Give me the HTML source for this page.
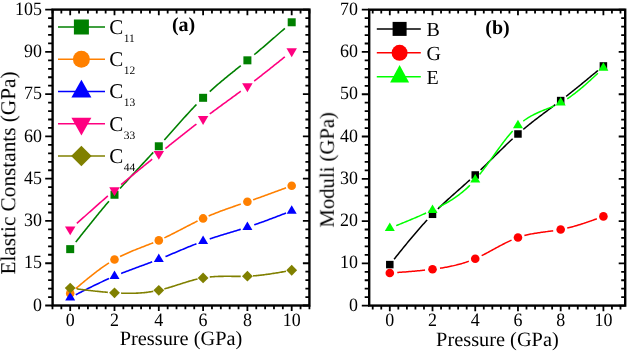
<!DOCTYPE html><html><head><meta charset="utf-8"><style>html,body{margin:0;padding:0;background:#fff;overflow:hidden}svg{display:block}text{will-change:transform}</style></head><body>
<svg width="627" height="354" viewBox="0 0 627 354">
<rect width="627" height="354" fill="#fff"/>
<path d="M70.20,305.50V311.10M70.20,9.60V15.20M114.50,305.50V311.10M114.50,9.60V15.20M158.80,305.50V311.10M158.80,9.60V15.20M203.10,305.50V311.10M203.10,9.60V15.20M247.40,305.50V311.10M247.40,9.60V15.20M291.70,305.50V311.10M291.70,9.60V15.20M52.48,305.50V309.30M52.48,9.60V13.40M61.34,305.50V309.30M61.34,9.60V13.40M79.06,305.50V309.30M79.06,9.60V13.40M87.92,305.50V309.30M87.92,9.60V13.40M96.78,305.50V309.30M96.78,9.60V13.40M105.64,305.50V309.30M105.64,9.60V13.40M123.36,305.50V309.30M123.36,9.60V13.40M132.22,305.50V309.30M132.22,9.60V13.40M141.08,305.50V309.30M141.08,9.60V13.40M149.94,305.50V309.30M149.94,9.60V13.40M167.66,305.50V309.30M167.66,9.60V13.40M176.52,305.50V309.30M176.52,9.60V13.40M185.38,305.50V309.30M185.38,9.60V13.40M194.24,305.50V309.30M194.24,9.60V13.40M211.96,305.50V309.30M211.96,9.60V13.40M220.82,305.50V309.30M220.82,9.60V13.40M229.68,305.50V309.30M229.68,9.60V13.40M238.54,305.50V309.30M238.54,9.60V13.40M256.26,305.50V309.30M256.26,9.60V13.40M265.12,305.50V309.30M265.12,9.60V13.40M273.98,305.50V309.30M273.98,9.60V13.40M282.84,305.50V309.30M282.84,9.60V13.40M300.56,305.50V309.30M300.56,9.60V13.40M309.42,305.50V309.30M309.42,9.60V13.40M52.60,305.50H45.20M309.40,305.50H302.90M52.60,263.23H45.20M309.40,263.23H302.90M52.60,220.96H45.20M309.40,220.96H302.90M52.60,178.69H45.20M309.40,178.69H302.90M52.60,136.41H45.20M309.40,136.41H302.90M52.60,94.14H45.20M309.40,94.14H302.90M52.60,51.87H45.20M309.40,51.87H302.90M52.60,9.60H45.20M309.40,9.60H302.90M52.60,297.05H48.10M309.40,297.05H305.40M52.60,288.59H48.10M309.40,288.59H305.40M52.60,280.14H48.10M309.40,280.14H305.40M52.60,271.68H48.10M309.40,271.68H305.40M52.60,254.77H48.10M309.40,254.77H305.40M52.60,246.32H48.10M309.40,246.32H305.40M52.60,237.87H48.10M309.40,237.87H305.40M52.60,229.41H48.10M309.40,229.41H305.40M52.60,212.50H48.10M309.40,212.50H305.40M52.60,204.05H48.10M309.40,204.05H305.40M52.60,195.59H48.10M309.40,195.59H305.40M52.60,187.14H48.10M309.40,187.14H305.40M52.60,170.23H48.10M309.40,170.23H305.40M52.60,161.78H48.10M309.40,161.78H305.40M52.60,153.32H48.10M309.40,153.32H305.40M52.60,144.87H48.10M309.40,144.87H305.40M52.60,127.96H48.10M309.40,127.96H305.40M52.60,119.51H48.10M309.40,119.51H305.40M52.60,111.05H48.10M309.40,111.05H305.40M52.60,102.60H48.10M309.40,102.60H305.40M52.60,85.69H48.10M309.40,85.69H305.40M52.60,77.23H48.10M309.40,77.23H305.40M52.60,68.78H48.10M309.40,68.78H305.40M52.60,60.33H48.10M309.40,60.33H305.40M52.60,43.42H48.10M309.40,43.42H305.40M52.60,34.96H48.10M309.40,34.96H305.40M52.60,26.51H48.10M309.40,26.51H305.40M52.60,18.05H48.10M309.40,18.05H305.40" stroke="#000" stroke-width="1.8" fill="none"/><rect x="52.60" y="9.60" width="256.80" height="295.90" fill="none" stroke="#000" stroke-width="2.4"/>
<path d="M75.74,242.12 L76.84,240.72 L77.95,239.31 L79.06,237.91 L80.17,236.52 L81.28,235.12 L82.38,233.72 L83.49,232.33 L84.60,230.94 L85.70,229.55 L86.81,228.16 L87.92,226.78 L89.03,225.40 L90.14,224.02 L91.24,222.64 L92.35,221.27 L93.46,219.90 L94.56,218.53 L95.67,217.17 L96.78,215.81 L97.89,214.46 L99.00,213.11 L100.10,211.76 L101.21,210.42 L102.32,209.09 L103.42,207.76 L104.53,206.43 L105.64,205.11 L106.75,203.79 L107.86,202.48 L108.96,201.18M120.04,188.48 L121.14,187.24 L122.25,186.01 L123.36,184.78 L124.47,183.56 L125.58,182.34 L126.68,181.13 L127.79,179.91 L128.90,178.71 L130.00,177.50 L131.11,176.30 L132.22,175.10 L133.33,173.90 L134.44,172.71 L135.54,171.51 L136.65,170.32 L137.76,169.13 L138.87,167.93 L139.97,166.74 L141.08,165.55 L142.19,164.36 L143.30,163.17 L144.40,161.98 L145.51,160.78 L146.62,159.59 L147.73,158.39 L148.83,157.19 L149.94,155.99 L151.05,154.79 L152.16,153.59 L153.26,152.38M164.34,140.07 L165.44,138.82 L166.55,137.57 L167.66,136.32 L168.77,135.06 L169.88,133.80 L170.98,132.55 L172.09,131.29 L173.20,130.03 L174.31,128.78 L175.41,127.52 L176.52,126.27 L177.63,125.02 L178.73,123.77 L179.84,122.52 L180.95,121.28 L182.06,120.04 L183.16,118.81 L184.27,117.58 L185.38,116.35 L186.49,115.13 L187.59,113.92 L188.70,112.71 L189.81,111.52 L190.92,110.32 L192.02,109.14 L193.13,107.96 L194.24,106.79 L195.35,105.63 L196.45,104.48M209.74,91.55 L210.85,90.54 L211.96,89.54 L213.07,88.56 L214.17,87.58 L215.28,86.61 L216.39,85.65 L217.50,84.69 L218.60,83.74 L219.71,82.80 L220.82,81.87 L221.93,80.94 L223.03,80.02 L224.14,79.10 L225.25,78.19 L226.36,77.28 L227.46,76.38 L228.57,75.48 L229.68,74.58 L230.79,73.68 L231.89,72.79 L233.00,71.90 L234.11,71.01 L235.22,70.12 L236.32,69.24 L237.43,68.35 L238.54,67.47 L239.65,66.58 L240.75,65.69M254.22,54.71 L255.35,53.76 L256.49,52.81 L257.62,51.85 L258.76,50.89 L259.89,49.93 L261.03,48.97 L262.17,48.00 L263.30,47.03 L264.44,46.06 L265.57,45.09 L266.71,44.11 L267.85,43.14 L268.98,42.16 L270.12,41.18 L271.25,40.19 L272.39,39.21 L273.53,38.22 L274.66,37.23 L275.80,36.24 L276.93,35.25 L278.07,34.26 L279.21,33.26 L280.34,32.27 L281.48,31.27 L282.61,30.28 L283.75,29.28 L284.88,28.28" stroke="#008000" stroke-width="1.6" fill="none"/>
<rect x="66.20" y="245.14" width="8.00" height="8.00" fill="#008000"/>
<rect x="110.50" y="190.75" width="8.00" height="8.00" fill="#008000"/>
<rect x="154.80" y="142.28" width="8.00" height="8.00" fill="#008000"/>
<rect x="199.10" y="93.81" width="8.00" height="8.00" fill="#008000"/>
<rect x="243.40" y="56.33" width="8.00" height="8.00" fill="#008000"/>
<rect x="287.70" y="18.28" width="8.00" height="8.00" fill="#008000"/>
<path d="M75.74,288.63 L76.84,287.69 L77.95,286.75 L79.06,285.81 L80.17,284.87 L81.28,283.94 L82.38,283.01 L83.49,282.08 L84.60,281.16 L85.70,280.25 L86.81,279.34 L87.92,278.43 L89.03,277.54 L90.14,276.65 L91.24,275.76 L92.35,274.89 L93.46,274.02 L94.56,273.16 L95.67,272.31 L96.78,271.47 L97.89,270.64 L99.00,269.81 L100.10,269.00 L101.21,268.20 L102.32,267.41 L103.42,266.63 L104.53,265.87 L105.64,265.11 L106.75,264.37 L107.86,263.64 L108.96,262.93M120.04,256.58 L121.14,256.02 L122.25,255.48 L123.36,254.95 L124.47,254.43 L125.58,253.92 L126.68,253.42 L127.79,252.92 L128.90,252.44 L130.00,251.96 L131.11,251.50 L132.22,251.04 L133.33,250.58 L134.44,250.13 L135.54,249.69 L136.65,249.25 L137.76,248.81 L138.87,248.37 L139.97,247.94 L141.08,247.51 L142.19,247.09 L143.30,246.66 L144.40,246.23 L145.51,245.80 L146.62,245.37 L147.73,244.94 L148.83,244.51 L149.94,244.07 L151.05,243.63 L152.16,243.19 L153.26,242.74M164.34,237.87 L165.44,237.35 L166.55,236.81 L167.66,236.27 L168.77,235.73 L169.88,235.18 L170.98,234.63 L172.09,234.07 L173.20,233.51 L174.31,232.94 L175.41,232.38 L176.52,231.81 L177.63,231.24 L178.73,230.66 L179.84,230.09 L180.95,229.51 L182.06,228.94 L183.16,228.36 L184.27,227.78 L185.38,227.21 L186.49,226.63 L187.59,226.06 L188.70,225.49 L189.81,224.92 L190.92,224.35 L192.02,223.79 L193.13,223.23 L194.24,222.68 L195.35,222.13 L196.45,221.58 L197.56,221.04M208.64,215.98 L209.74,215.51 L210.85,215.05 L211.96,214.59 L213.07,214.14 L214.17,213.69 L215.28,213.25 L216.39,212.82 L217.50,212.39 L218.60,211.96 L219.71,211.54 L220.82,211.12 L221.93,210.71 L223.03,210.30 L224.14,209.90 L225.25,209.49 L226.36,209.09 L227.46,208.70 L228.57,208.30 L229.68,207.91 L230.79,207.52 L231.89,207.14 L233.00,206.75 L234.11,206.37 L235.22,205.98 L236.32,205.60 L237.43,205.22 L238.54,204.84 L239.65,204.46 L240.75,204.08M253.08,199.81 L254.22,199.41 L255.35,199.01 L256.49,198.60 L257.62,198.20 L258.76,197.79 L259.89,197.39 L261.03,196.98 L262.17,196.57 L263.30,196.16 L264.44,195.75 L265.57,195.34 L266.71,194.93 L267.85,194.52 L268.98,194.10 L270.12,193.69 L271.25,193.27 L272.39,192.86 L273.53,192.44 L274.66,192.03 L275.80,191.61 L276.93,191.19 L278.07,190.77 L279.21,190.35 L280.34,189.94 L281.48,189.52 L282.61,189.10 L283.75,188.68 L284.88,188.26 L286.02,187.84" stroke="#ff8000" stroke-width="1.6" fill="none"/>
<circle cx="70.20" cy="293.38" r="4.30" fill="#ff8000"/>
<circle cx="114.50" cy="259.57" r="4.30" fill="#ff8000"/>
<circle cx="158.80" cy="240.40" r="4.30" fill="#ff8000"/>
<circle cx="203.10" cy="218.42" r="4.30" fill="#ff8000"/>
<circle cx="247.40" cy="201.79" r="4.30" fill="#ff8000"/>
<circle cx="291.70" cy="185.73" r="4.30" fill="#ff8000"/>
<path d="M75.74,294.76 L76.84,294.20 L77.95,293.63 L79.06,293.06 L80.17,292.50 L81.28,291.93 L82.38,291.37 L83.49,290.81 L84.60,290.25 L85.70,289.69 L86.81,289.13 L87.92,288.58 L89.03,288.03 L90.14,287.48 L91.24,286.93 L92.35,286.38 L93.46,285.84 L94.56,285.30 L95.67,284.76 L96.78,284.23 L97.89,283.70 L99.00,283.17 L100.10,282.65 L101.21,282.13 L102.32,281.61 L103.42,281.09 L104.53,280.59 L105.64,280.08 L106.75,279.58 L107.86,279.08 L108.96,278.59M121.14,273.48 L122.25,273.04 L123.36,272.60 L124.47,272.17 L125.58,271.75 L126.68,271.32 L127.79,270.90 L128.90,270.48 L130.00,270.06 L131.11,269.65 L132.22,269.23 L133.33,268.82 L134.44,268.41 L135.54,268.00 L136.65,267.59 L137.76,267.19 L138.87,266.78 L139.97,266.37 L141.08,265.97 L142.19,265.56 L143.30,265.15 L144.40,264.74 L145.51,264.33 L146.62,263.92 L147.73,263.51 L148.83,263.10 L149.94,262.69 L151.05,262.27 L152.16,261.85M165.44,256.60 L166.55,256.14 L167.66,255.68 L168.77,255.22 L169.88,254.76 L170.98,254.29 L172.09,253.83 L173.20,253.36 L174.31,252.89 L175.41,252.43 L176.52,251.96 L177.63,251.49 L178.73,251.02 L179.84,250.55 L180.95,250.09 L182.06,249.62 L183.16,249.16 L184.27,248.69 L185.38,248.23 L186.49,247.77 L187.59,247.31 L188.70,246.86 L189.81,246.41 L190.92,245.96 L192.02,245.51 L193.13,245.06 L194.24,244.62 L195.35,244.19 L196.45,243.75M209.74,238.92 L210.85,238.55 L211.96,238.19 L213.07,237.82 L214.17,237.46 L215.28,237.10 L216.39,236.75 L217.50,236.40 L218.60,236.05 L219.71,235.70 L220.82,235.36 L221.93,235.02 L223.03,234.68 L224.14,234.34 L225.25,234.00 L226.36,233.66 L227.46,233.33 L228.57,232.99 L229.68,232.66 L230.79,232.32 L231.89,231.99 L233.00,231.65 L234.11,231.32 L235.22,230.98 L236.32,230.64 L237.43,230.30 L238.54,229.96 L239.65,229.62 L240.75,229.27M254.22,224.87 L255.35,224.47 L256.49,224.08 L257.62,223.68 L258.76,223.28 L259.89,222.87 L261.03,222.46 L262.17,222.05 L263.30,221.64 L264.44,221.23 L265.57,220.81 L266.71,220.39 L267.85,219.97 L268.98,219.55 L270.12,219.12 L271.25,218.69 L272.39,218.27 L273.53,217.84 L274.66,217.40 L275.80,216.97 L276.93,216.54 L278.07,216.10 L279.21,215.66 L280.34,215.23 L281.48,214.79 L282.61,214.35 L283.75,213.91 L284.88,213.47 L286.02,213.02" stroke="#0000ff" stroke-width="1.6" fill="none"/>
<polygon points="70.20,291.94 75.20,300.44 65.20,300.44" fill="#0000ff"/>
<polygon points="114.50,270.53 119.50,279.03 109.50,279.03" fill="#0000ff"/>
<polygon points="158.80,253.62 163.80,262.12 153.80,262.12" fill="#0000ff"/>
<polygon points="203.10,235.58 208.10,244.08 198.10,244.08" fill="#0000ff"/>
<polygon points="247.40,221.49 252.40,229.99 242.40,229.99" fill="#0000ff"/>
<polygon points="291.70,205.15 296.70,213.65 286.70,213.65" fill="#0000ff"/>
<path d="M76.84,223.43 L77.95,222.44 L79.06,221.44 L80.17,220.45 L81.28,219.45 L82.38,218.46 L83.49,217.47 L84.60,216.47 L85.70,215.48 L86.81,214.49 L87.92,213.50 L89.03,212.52 L90.14,211.53 L91.24,210.54 L92.35,209.56 L93.46,208.58 L94.56,207.60 L95.67,206.62 L96.78,205.64 L97.89,204.66 L99.00,203.68 L100.10,202.71 L101.21,201.74 L102.32,200.77 L103.42,199.80 L104.53,198.83 L105.64,197.87 L106.75,196.91 L107.86,195.95M121.14,184.62 L122.25,183.69 L123.36,182.77 L124.47,181.84 L125.58,180.92 L126.68,180.00 L127.79,179.08 L128.90,178.17 L130.00,177.25 L131.11,176.34 L132.22,175.43 L133.33,174.52 L134.44,173.61 L135.54,172.71 L136.65,171.80 L137.76,170.90 L138.87,170.00 L139.97,169.10 L141.08,168.20 L142.19,167.30 L143.30,166.40 L144.40,165.50 L145.51,164.60 L146.62,163.71 L147.73,162.81 L148.83,161.92 L149.94,161.03 L151.05,160.13 L152.16,159.24M165.44,148.54 L166.55,147.65 L167.66,146.76 L168.77,145.87 L169.88,144.98 L170.98,144.09 L172.09,143.20 L173.20,142.32 L174.31,141.43 L175.41,140.54 L176.52,139.66 L177.63,138.78 L178.73,137.90 L179.84,137.02 L180.95,136.14 L182.06,135.26 L183.16,134.38 L184.27,133.51 L185.38,132.63 L186.49,131.76 L187.59,130.89 L188.70,130.03 L189.81,129.16 L190.92,128.30 L192.02,127.43 L193.13,126.57 L194.24,125.72 L195.35,124.86 L196.45,124.01M209.74,113.97 L210.85,113.15 L211.96,112.33 L213.07,111.51 L214.17,110.70 L215.28,109.88 L216.39,109.07 L217.50,108.26 L218.60,107.45 L219.71,106.64 L220.82,105.83 L221.93,105.02 L223.03,104.21 L224.14,103.40 L225.25,102.60 L226.36,101.79 L227.46,100.98 L228.57,100.17 L229.68,99.36 L230.79,98.55 L231.89,97.74 L233.00,96.93 L234.11,96.12 L235.22,95.31 L236.32,94.49 L237.43,93.68 L238.54,92.86 L239.65,92.04 L240.75,91.22M254.22,81.06 L255.35,80.18 L256.49,79.30 L257.62,78.42 L258.76,77.54 L259.89,76.66 L261.03,75.77 L262.17,74.88 L263.30,73.99 L264.44,73.10 L265.57,72.21 L266.71,71.31 L267.85,70.41 L268.98,69.51 L270.12,68.61 L271.25,67.71 L272.39,66.81 L273.53,65.90 L274.66,64.99 L275.80,64.09 L276.93,63.18 L278.07,62.27 L279.21,61.36 L280.34,60.45 L281.48,59.54 L282.61,58.62 L283.75,57.71 L284.88,56.80" stroke="#ff0080" stroke-width="1.6" fill="none"/>
<polygon points="70.20,235.36 75.45,226.44 64.95,226.44" fill="#ff0080"/>
<polygon points="114.50,196.19 119.75,187.26 109.25,187.26" fill="#ff0080"/>
<polygon points="158.80,159.84 164.05,150.91 153.55,150.91" fill="#ff0080"/>
<polygon points="203.10,124.89 208.35,115.97 197.85,115.97" fill="#ff0080"/>
<polygon points="247.40,92.20 252.65,83.28 242.15,83.28" fill="#ff0080"/>
<polygon points="291.70,57.26 296.95,48.33 286.45,48.33" fill="#ff0080"/>
<path d="M76.84,288.90 L77.95,289.04 L79.06,289.18 L80.17,289.33 L81.28,289.47 L82.38,289.61 L83.49,289.75 L84.60,289.88 L85.70,290.02 L86.81,290.16 L87.92,290.29 L89.03,290.42 L90.14,290.55 L91.24,290.68 L92.35,290.81 L93.46,290.93 L94.56,291.06 L95.67,291.18 L96.78,291.30 L97.89,291.41 L99.00,291.53 L100.10,291.64 L101.21,291.75 L102.32,291.86 L103.42,291.96 L104.53,292.06 L105.64,292.16 L106.75,292.25 L107.86,292.34M121.14,293.15 L122.25,293.19 L123.36,293.22 L124.47,293.25 L125.58,293.27 L126.68,293.29 L127.79,293.30 L128.90,293.30 L130.00,293.30 L131.11,293.29 L132.22,293.28 L133.33,293.25 L134.44,293.22 L135.54,293.19 L136.65,293.14 L137.76,293.09 L138.87,293.02 L139.97,292.95 L141.08,292.87 L142.19,292.79 L143.30,292.69 L144.40,292.58 L145.51,292.47 L146.62,292.34 L147.73,292.21 L148.83,292.07 L149.94,291.91 L151.05,291.75 L152.16,291.57 L153.26,291.38M164.34,288.90 L165.44,288.59 L166.55,288.28 L167.66,287.96 L168.77,287.63 L169.88,287.30 L170.98,286.96 L172.09,286.62 L173.20,286.27 L174.31,285.92 L175.41,285.57 L176.52,285.21 L177.63,284.86 L178.73,284.50 L179.84,284.14 L180.95,283.79 L182.06,283.43 L183.16,283.08 L184.27,282.73 L185.38,282.39 L186.49,282.05 L187.59,281.71 L188.70,281.38 L189.81,281.05 L190.92,280.73 L192.02,280.42 L193.13,280.12 L194.24,279.83 L195.35,279.54 L196.45,279.27 L197.56,279.01M209.74,276.99 L210.85,276.88 L211.96,276.79 L213.07,276.71 L214.17,276.63 L215.28,276.57 L216.39,276.51 L217.50,276.46 L218.60,276.42 L219.71,276.39 L220.82,276.36 L221.93,276.34 L223.03,276.33 L224.14,276.32 L225.25,276.31 L226.36,276.31 L227.46,276.31 L228.57,276.31 L229.68,276.32 L230.79,276.32 L231.89,276.33 L233.00,276.34 L234.11,276.34 L235.22,276.35 L236.32,276.35 L237.43,276.36 L238.54,276.36 L239.65,276.35 L240.75,276.34M253.08,275.86 L254.22,275.78 L255.35,275.68 L256.49,275.58 L257.62,275.47 L258.76,275.36 L259.89,275.24 L261.03,275.11 L262.17,274.98 L263.30,274.84 L264.44,274.70 L265.57,274.55 L266.71,274.40 L267.85,274.25 L268.98,274.09 L270.12,273.92 L271.25,273.75 L272.39,273.58 L273.53,273.40 L274.66,273.22 L275.80,273.04 L276.93,272.86 L278.07,272.67 L279.21,272.48 L280.34,272.28 L281.48,272.09 L282.61,271.89 L283.75,271.69 L284.88,271.49 L286.02,271.29" stroke="#808000" stroke-width="1.6" fill="none"/>
<polygon points="70.20,282.63 75.60,288.03 70.20,293.43 64.80,288.03" fill="#808000"/>
<polygon points="114.50,287.42 119.90,292.82 114.50,298.22 109.10,292.82" fill="#808000"/>
<polygon points="158.80,284.88 164.20,290.28 158.80,295.68 153.40,290.28" fill="#808000"/>
<polygon points="203.10,272.48 208.50,277.88 203.10,283.28 197.70,277.88" fill="#808000"/>
<polygon points="247.40,270.79 252.80,276.19 247.40,281.59 242.00,276.19" fill="#808000"/>
<polygon points="291.70,264.87 297.10,270.27 291.70,275.67 286.30,270.27" fill="#808000"/>
<text transform="translate(42.00,310.60) scale(0.95,1)" text-anchor="end" font-size="18.9" font-family="'Liberation Serif', serif" text-rendering="geometricPrecision">0</text>
<text transform="translate(42.00,268.33) scale(0.95,1)" text-anchor="end" font-size="18.9" font-family="'Liberation Serif', serif" text-rendering="geometricPrecision">15</text>
<text transform="translate(42.00,226.06) scale(0.95,1)" text-anchor="end" font-size="18.9" font-family="'Liberation Serif', serif" text-rendering="geometricPrecision">30</text>
<text transform="translate(42.00,183.79) scale(0.95,1)" text-anchor="end" font-size="18.9" font-family="'Liberation Serif', serif" text-rendering="geometricPrecision">45</text>
<text transform="translate(42.00,141.51) scale(0.95,1)" text-anchor="end" font-size="18.9" font-family="'Liberation Serif', serif" text-rendering="geometricPrecision">60</text>
<text transform="translate(42.00,99.24) scale(0.95,1)" text-anchor="end" font-size="18.9" font-family="'Liberation Serif', serif" text-rendering="geometricPrecision">75</text>
<text transform="translate(42.00,56.97) scale(0.95,1)" text-anchor="end" font-size="18.9" font-family="'Liberation Serif', serif" text-rendering="geometricPrecision">90</text>
<text transform="translate(42.00,14.70) scale(0.95,1)" text-anchor="end" font-size="18.9" font-family="'Liberation Serif', serif" text-rendering="geometricPrecision">105</text>
<text transform="translate(70.20,326.4) scale(0.95,1)" text-anchor="middle" font-size="18.9" font-family="'Liberation Serif', serif" text-rendering="geometricPrecision">0</text>
<text transform="translate(114.50,326.4) scale(0.95,1)" text-anchor="middle" font-size="18.9" font-family="'Liberation Serif', serif" text-rendering="geometricPrecision">2</text>
<text transform="translate(158.80,326.4) scale(0.95,1)" text-anchor="middle" font-size="18.9" font-family="'Liberation Serif', serif" text-rendering="geometricPrecision">4</text>
<text transform="translate(203.10,326.4) scale(0.95,1)" text-anchor="middle" font-size="18.9" font-family="'Liberation Serif', serif" text-rendering="geometricPrecision">6</text>
<text transform="translate(247.40,326.4) scale(0.95,1)" text-anchor="middle" font-size="18.9" font-family="'Liberation Serif', serif" text-rendering="geometricPrecision">8</text>
<text transform="translate(291.70,326.4) scale(0.95,1)" text-anchor="middle" font-size="18.9" font-family="'Liberation Serif', serif" text-rendering="geometricPrecision">10</text>
<text x="181" y="344.9" text-anchor="middle" font-size="20.35" font-family="'Liberation Serif', serif" text-rendering="geometricPrecision">Pressure (GPa)</text>
<text transform="translate(15.2,173) rotate(-90)" text-anchor="middle" font-size="21.25" font-family="'Liberation Serif', serif" text-rendering="geometricPrecision">Elastic Constants (GPa)</text>
<text x="171.9" y="31.4" font-size="20" font-weight="bold" font-family="'Liberation Serif', serif" text-rendering="geometricPrecision">(a)</text>
<path d="M58,27.00H105" stroke="#008000" stroke-width="1.5"/>
<rect x="73.90" y="19.50" width="15.00" height="15.00" fill="#008000"/>
<text x="109.2" y="33.90" font-size="21" font-family="'Liberation Serif', serif" text-rendering="geometricPrecision">C</text>
<text x="123.8" y="41.90" font-size="11.5" font-family="'Liberation Serif', serif" text-rendering="geometricPrecision">11</text>
<path d="M58,59.25H105" stroke="#ff8000" stroke-width="1.5"/>
<circle cx="81.40" cy="59.25" r="8.50" fill="#ff8000"/>
<text x="109.2" y="66.15" font-size="21" font-family="'Liberation Serif', serif" text-rendering="geometricPrecision">C</text>
<text x="123.8" y="74.15" font-size="11.5" font-family="'Liberation Serif', serif" text-rendering="geometricPrecision">12</text>
<path d="M58,91.50H105" stroke="#0000ff" stroke-width="1.5"/>
<polygon points="81.40,79.63 91.40,97.43 71.40,97.43" fill="#0000ff"/>
<text x="109.2" y="98.40" font-size="21" font-family="'Liberation Serif', serif" text-rendering="geometricPrecision">C</text>
<text x="123.8" y="106.40" font-size="11.5" font-family="'Liberation Serif', serif" text-rendering="geometricPrecision">13</text>
<path d="M58,123.75H105" stroke="#ff0080" stroke-width="1.5"/>
<polygon points="81.40,135.62 91.40,117.82 71.40,117.82" fill="#ff0080"/>
<text x="109.2" y="130.65" font-size="21" font-family="'Liberation Serif', serif" text-rendering="geometricPrecision">C</text>
<text x="123.8" y="138.65" font-size="11.5" font-family="'Liberation Serif', serif" text-rendering="geometricPrecision">33</text>
<path d="M58,156.00H105" stroke="#808000" stroke-width="1.5"/>
<polygon points="81.40,145.75 91.65,156.00 81.40,166.25 71.15,156.00" fill="#808000"/>
<text x="109.2" y="162.90" font-size="21" font-family="'Liberation Serif', serif" text-rendering="geometricPrecision">C</text>
<text x="123.8" y="170.90" font-size="11.5" font-family="'Liberation Serif', serif" text-rendering="geometricPrecision">44</text>
<path d="M389.80,305.60V311.20M389.80,9.70V15.30M432.52,305.60V311.20M432.52,9.70V15.30M475.24,305.60V311.20M475.24,9.70V15.30M517.96,305.60V311.20M517.96,9.70V15.30M560.68,305.60V311.20M560.68,9.70V15.30M603.40,305.60V311.20M603.40,9.70V15.30M372.71,305.60V309.40M372.71,9.70V13.50M381.26,305.60V309.40M381.26,9.70V13.50M398.34,305.60V309.40M398.34,9.70V13.50M406.89,305.60V309.40M406.89,9.70V13.50M415.43,305.60V309.40M415.43,9.70V13.50M423.98,305.60V309.40M423.98,9.70V13.50M441.06,305.60V309.40M441.06,9.70V13.50M449.61,305.60V309.40M449.61,9.70V13.50M458.15,305.60V309.40M458.15,9.70V13.50M466.70,305.60V309.40M466.70,9.70V13.50M483.78,305.60V309.40M483.78,9.70V13.50M492.33,305.60V309.40M492.33,9.70V13.50M500.87,305.60V309.40M500.87,9.70V13.50M509.42,305.60V309.40M509.42,9.70V13.50M526.50,305.60V309.40M526.50,9.70V13.50M535.05,305.60V309.40M535.05,9.70V13.50M543.59,305.60V309.40M543.59,9.70V13.50M552.14,305.60V309.40M552.14,9.70V13.50M569.22,305.60V309.40M569.22,9.70V13.50M577.77,305.60V309.40M577.77,9.70V13.50M586.31,305.60V309.40M586.31,9.70V13.50M594.86,305.60V309.40M594.86,9.70V13.50M611.94,305.60V309.40M611.94,9.70V13.50M620.49,305.60V309.40M620.49,9.70V13.50M369.20,305.60H361.80M625.20,305.60H618.70M369.20,263.33H361.80M625.20,263.33H618.70M369.20,221.06H361.80M625.20,221.06H618.70M369.20,178.79H361.80M625.20,178.79H618.70M369.20,136.51H361.80M625.20,136.51H618.70M369.20,94.24H361.80M625.20,94.24H618.70M369.20,51.97H361.80M625.20,51.97H618.70M369.20,9.70H361.80M625.20,9.70H618.70M369.20,297.15H364.70M625.20,297.15H621.20M369.20,288.69H364.70M625.20,288.69H621.20M369.20,280.24H364.70M625.20,280.24H621.20M369.20,271.78H364.70M625.20,271.78H621.20M369.20,254.87H364.70M625.20,254.87H621.20M369.20,246.42H364.70M625.20,246.42H621.20M369.20,237.97H364.70M625.20,237.97H621.20M369.20,229.51H364.70M625.20,229.51H621.20M369.20,212.60H364.70M625.20,212.60H621.20M369.20,204.15H364.70M625.20,204.15H621.20M369.20,195.69H364.70M625.20,195.69H621.20M369.20,187.24H364.70M625.20,187.24H621.20M369.20,170.33H364.70M625.20,170.33H621.20M369.20,161.88H364.70M625.20,161.88H621.20M369.20,153.42H364.70M625.20,153.42H621.20M369.20,144.97H364.70M625.20,144.97H621.20M369.20,128.06H364.70M625.20,128.06H621.20M369.20,119.61H364.70M625.20,119.61H621.20M369.20,111.15H364.70M625.20,111.15H621.20M369.20,102.70H364.70M625.20,102.70H621.20M369.20,85.79H364.70M625.20,85.79H621.20M369.20,77.33H364.70M625.20,77.33H621.20M369.20,68.88H364.70M625.20,68.88H621.20M369.20,60.43H364.70M625.20,60.43H621.20M369.20,43.52H364.70M625.20,43.52H621.20M369.20,35.06H364.70M625.20,35.06H621.20M369.20,26.61H364.70M625.20,26.61H621.20M369.20,18.15H364.70M625.20,18.15H621.20" stroke="#000" stroke-width="1.8" fill="none"/><rect x="369.20" y="9.70" width="256.00" height="295.90" fill="none" stroke="#000" stroke-width="2.4"/>
<path d="M394.07,259.25 L395.14,257.91 L396.21,256.58 L397.28,255.25 L398.34,253.92 L399.41,252.59 L400.48,251.27 L401.55,249.95 L402.62,248.63 L403.68,247.31 L404.75,246.00 L405.82,244.70 L406.89,243.39 L407.96,242.10 L409.02,240.81 L410.09,239.52 L411.16,238.24 L412.23,236.96 L413.30,235.70 L414.36,234.43 L415.43,233.18 L416.50,231.93 L417.57,230.69 L418.64,229.46 L419.70,228.24 L420.77,227.02 L421.84,225.81 L422.91,224.62 L423.98,223.43 L425.04,222.25 L426.11,221.08 L427.18,219.92M437.86,208.95 L438.93,207.91 L440.00,206.89 L441.06,205.87 L442.13,204.85 L443.20,203.85 L444.27,202.85 L445.34,201.86 L446.40,200.88 L447.47,199.90 L448.54,198.93 L449.61,197.97 L450.68,197.00 L451.74,196.04 L452.81,195.09 L453.88,194.14 L454.95,193.19 L456.02,192.24 L457.08,191.29 L458.15,190.35 L459.22,189.40 L460.29,188.46 L461.36,187.51 L462.42,186.57 L463.49,185.62 L464.56,184.67 L465.63,183.72 L466.70,182.77 L467.76,181.81 L468.83,180.85 L469.90,179.89M480.58,169.92 L481.65,168.89 L482.72,167.86 L483.78,166.82 L484.85,165.78 L485.92,164.73 L486.99,163.69 L488.06,162.64 L489.12,161.59 L490.19,160.53 L491.26,159.48 L492.33,158.42 L493.40,157.37 L494.46,156.31 L495.53,155.26 L496.60,154.20 L497.67,153.15 L498.74,152.10 L499.80,151.05 L500.87,150.01 L501.94,148.96 L503.01,147.93 L504.08,146.89 L505.14,145.86 L506.21,144.83 L507.28,143.81 L508.35,142.80 L509.42,141.79 L510.48,140.78 L511.55,139.79 L512.62,138.80M523.30,129.39 L524.37,128.49 L525.44,127.61 L526.50,126.73 L527.57,125.86 L528.64,125.00 L529.71,124.14 L530.78,123.29 L531.84,122.45 L532.91,121.61 L533.98,120.77 L535.05,119.94 L536.12,119.12 L537.18,118.30 L538.25,117.48 L539.32,116.66 L540.39,115.85 L541.46,115.04 L542.52,114.24 L543.59,113.44 L544.66,112.63 L545.73,111.83 L546.80,111.03 L547.86,110.23 L548.93,109.44 L550.00,108.64 L551.07,107.84 L552.14,107.04 L553.20,106.24 L554.27,105.44 L555.34,104.64M566.16,96.34 L567.25,95.48 L568.35,94.62 L569.44,93.76 L570.54,92.89 L571.63,92.02 L572.73,91.14 L573.82,90.27 L574.92,89.39 L576.02,88.51 L577.11,87.62 L578.21,86.74 L579.30,85.85 L580.40,84.96 L581.49,84.06 L582.59,83.17 L583.68,82.27 L584.78,81.37 L585.87,80.47 L586.97,79.57 L588.06,78.67 L589.16,77.76 L590.26,76.86 L591.35,75.95 L592.45,75.04 L593.54,74.13 L594.64,73.22 L595.73,72.31 L596.83,71.40 L597.92,70.49" stroke="#000000" stroke-width="1.5" fill="none"/>
<rect x="386.05" y="260.85" width="7.50" height="7.50" fill="#000000"/>
<rect x="428.77" y="210.54" width="7.50" height="7.50" fill="#000000"/>
<rect x="471.49" y="171.23" width="7.50" height="7.50" fill="#000000"/>
<rect x="514.21" y="130.23" width="7.50" height="7.50" fill="#000000"/>
<rect x="556.93" y="96.83" width="7.50" height="7.50" fill="#000000"/>
<rect x="599.65" y="62.17" width="7.50" height="7.50" fill="#000000"/>
<path d="M397.28,272.52 L398.34,272.44 L399.41,272.36 L400.48,272.28 L401.55,272.20 L402.62,272.12 L403.68,272.04 L404.75,271.96 L405.82,271.88 L406.89,271.79 L407.96,271.71 L409.02,271.62 L410.09,271.53 L411.16,271.44 L412.23,271.35 L413.30,271.26 L414.36,271.16 L415.43,271.07 L416.50,270.97 L417.57,270.87 L418.64,270.77 L419.70,270.67 L420.77,270.56 L421.84,270.45 L422.91,270.34 L423.98,270.23 L425.04,270.12M440.00,268.22 L441.06,268.06 L442.13,267.89 L443.20,267.72 L444.27,267.54 L445.34,267.35 L446.40,267.16 L447.47,266.96 L448.54,266.76 L449.61,266.54 L450.68,266.33 L451.74,266.10 L452.81,265.87 L453.88,265.62 L454.95,265.37 L456.02,265.11 L457.08,264.85 L458.15,264.57 L459.22,264.28 L460.29,263.99 L461.36,263.68 L462.42,263.36 L463.49,263.04 L464.56,262.70 L465.63,262.35 L466.70,261.99 L467.76,261.62 L468.83,261.24M481.65,255.66 L482.72,255.13 L483.78,254.58 L484.85,254.03 L485.92,253.47 L486.99,252.90 L488.06,252.33 L489.12,251.75 L490.19,251.17 L491.26,250.59 L492.33,250.01 L493.40,249.43 L494.46,248.84 L495.53,248.26 L496.60,247.68 L497.67,247.10 L498.74,246.52 L499.80,245.95 L500.87,245.38 L501.94,244.81 L503.01,244.26 L504.08,243.71 L505.14,243.16 L506.21,242.63 L507.28,242.11 L508.35,241.59 L509.42,241.09 L510.48,240.59 L511.55,240.11M524.37,235.57 L525.44,235.29 L526.50,235.03 L527.57,234.78 L528.64,234.54 L529.71,234.31 L530.78,234.09 L531.84,233.88 L532.91,233.69 L533.98,233.50 L535.05,233.31 L536.12,233.14 L537.18,232.97 L538.25,232.81 L539.32,232.65 L540.39,232.50 L541.46,232.35 L542.52,232.20 L543.59,232.06 L544.66,231.92 L545.73,231.77 L546.80,231.63 L547.86,231.49 L548.93,231.35 L550.00,231.20 L551.07,231.06 L552.14,230.91 L553.20,230.75M567.25,228.09 L568.35,227.82 L569.44,227.55 L570.54,227.26 L571.63,226.97 L572.73,226.67 L573.82,226.37 L574.92,226.06 L576.02,225.74 L577.11,225.42 L578.21,225.09 L579.30,224.75 L580.40,224.41 L581.49,224.06 L582.59,223.71 L583.68,223.35 L584.78,222.99 L585.87,222.63 L586.97,222.26 L588.06,221.88 L589.16,221.51 L590.26,221.13 L591.35,220.74 L592.45,220.36 L593.54,219.97 L594.64,219.58 L595.73,219.19 L596.83,218.79" stroke="#ff0000" stroke-width="1.5" fill="none"/>
<circle cx="389.80" cy="273.05" r="4.30" fill="#ff0000"/>
<circle cx="432.52" cy="269.25" r="4.30" fill="#ff0000"/>
<circle cx="475.24" cy="258.68" r="4.30" fill="#ff0000"/>
<circle cx="517.96" cy="237.54" r="4.30" fill="#ff0000"/>
<circle cx="560.68" cy="229.51" r="4.30" fill="#ff0000"/>
<circle cx="603.40" cy="216.41" r="4.30" fill="#ff0000"/>
<path d="M396.21,225.65 L397.28,225.22 L398.34,224.79 L399.41,224.35 L400.48,223.92 L401.55,223.48 L402.62,223.04 L403.68,222.61 L404.75,222.17 L405.82,221.73 L406.89,221.29 L407.96,220.84 L409.02,220.40 L410.09,219.95 L411.16,219.50 L412.23,219.05 L413.30,218.60 L414.36,218.15 L415.43,217.69 L416.50,217.24 L417.57,216.78 L418.64,216.32 L419.70,215.85 L420.77,215.39 L421.84,214.92 L422.91,214.44 L423.98,213.97 L425.04,213.49 L426.11,213.01M438.93,206.97 L440.00,206.43 L441.06,205.89 L442.13,205.33 L443.20,204.76 L444.27,204.19 L445.34,203.60 L446.40,203.00 L447.47,202.39 L448.54,201.76 L449.61,201.12 L450.68,200.46 L451.74,199.79 L452.81,199.10 L453.88,198.40 L454.95,197.68 L456.02,196.94 L457.08,196.18 L458.15,195.40 L459.22,194.60 L460.29,193.77 L461.36,192.93 L462.42,192.06 L463.49,191.17 L464.56,190.26 L465.63,189.32 L466.70,188.36 L467.76,187.36 L468.83,186.35 L469.90,185.30M479.51,174.55 L480.58,173.21 L481.65,171.86 L482.72,170.48 L483.78,169.08 L484.85,167.66 L485.92,166.23 L486.99,164.79 L488.06,163.33 L489.12,161.87 L490.19,160.39 L491.26,158.92 L492.33,157.43 L493.40,155.95 L494.46,154.46 L495.53,152.98 L496.60,151.50 L497.67,150.03 L498.74,148.56 L499.80,147.10 L500.87,145.65 L501.94,144.22 L503.01,142.80 L504.08,141.40 L505.14,140.01 L506.21,138.65 L507.28,137.31 L508.35,135.99 L509.42,134.70 L510.48,133.44 L511.55,132.20 L512.62,131.00M523.30,121.05 L524.37,120.26 L525.44,119.51 L526.50,118.79 L527.57,118.10 L528.64,117.44 L529.71,116.80 L530.78,116.19 L531.84,115.60 L532.91,115.04 L533.98,114.49 L535.05,113.97 L536.12,113.46 L537.18,112.96 L538.25,112.48 L539.32,112.01 L540.39,111.55 L541.46,111.10 L542.52,110.66 L543.59,110.23 L544.66,109.79 L545.73,109.36 L546.80,108.94 L547.86,108.51 L548.93,108.07 L550.00,107.64 L551.07,107.19 L552.14,106.75 L553.20,106.29 L554.27,105.82M567.25,98.76 L568.35,98.03 L569.44,97.29 L570.54,96.52 L571.63,95.74 L572.73,94.94 L573.82,94.13 L574.92,93.30 L576.02,92.45 L577.11,91.59 L578.21,90.71 L579.30,89.82 L580.40,88.92 L581.49,88.01 L582.59,87.08 L583.68,86.14 L584.78,85.20 L585.87,84.24 L586.97,83.27 L588.06,82.29 L589.16,81.31 L590.26,80.32 L591.35,79.32 L592.45,78.31 L593.54,77.30 L594.64,76.29 L595.73,75.27 L596.83,74.24 L597.92,73.21" stroke="#00ff00" stroke-width="1.5" fill="none"/>
<polygon points="389.80,222.58 394.80,231.08 384.80,231.08" fill="#00ff00"/>
<polygon points="432.52,204.40 437.52,212.90 427.52,212.90" fill="#00ff00"/>
<polygon points="475.24,173.96 480.24,182.46 470.24,182.46" fill="#00ff00"/>
<polygon points="517.96,119.86 522.96,128.36 512.96,128.36" fill="#00ff00"/>
<polygon points="560.68,97.03 565.68,105.53 555.68,105.53" fill="#00ff00"/>
<polygon points="603.40,62.37 608.40,70.87 598.40,70.87" fill="#00ff00"/>
<text transform="translate(357.90,310.70) scale(0.95,1)" text-anchor="end" font-size="18.9" font-family="'Liberation Serif', serif" text-rendering="geometricPrecision">0</text>
<text transform="translate(357.90,268.43) scale(0.95,1)" text-anchor="end" font-size="18.9" font-family="'Liberation Serif', serif" text-rendering="geometricPrecision">10</text>
<text transform="translate(357.90,226.16) scale(0.95,1)" text-anchor="end" font-size="18.9" font-family="'Liberation Serif', serif" text-rendering="geometricPrecision">20</text>
<text transform="translate(357.90,183.89) scale(0.95,1)" text-anchor="end" font-size="18.9" font-family="'Liberation Serif', serif" text-rendering="geometricPrecision">30</text>
<text transform="translate(357.90,141.61) scale(0.95,1)" text-anchor="end" font-size="18.9" font-family="'Liberation Serif', serif" text-rendering="geometricPrecision">40</text>
<text transform="translate(357.90,99.34) scale(0.95,1)" text-anchor="end" font-size="18.9" font-family="'Liberation Serif', serif" text-rendering="geometricPrecision">50</text>
<text transform="translate(357.90,57.07) scale(0.95,1)" text-anchor="end" font-size="18.9" font-family="'Liberation Serif', serif" text-rendering="geometricPrecision">60</text>
<text transform="translate(357.90,14.80) scale(0.95,1)" text-anchor="end" font-size="18.9" font-family="'Liberation Serif', serif" text-rendering="geometricPrecision">70</text>
<text transform="translate(389.80,326.4) scale(0.95,1)" text-anchor="middle" font-size="18.9" font-family="'Liberation Serif', serif" text-rendering="geometricPrecision">0</text>
<text transform="translate(432.52,326.4) scale(0.95,1)" text-anchor="middle" font-size="18.9" font-family="'Liberation Serif', serif" text-rendering="geometricPrecision">2</text>
<text transform="translate(475.24,326.4) scale(0.95,1)" text-anchor="middle" font-size="18.9" font-family="'Liberation Serif', serif" text-rendering="geometricPrecision">4</text>
<text transform="translate(517.96,326.4) scale(0.95,1)" text-anchor="middle" font-size="18.9" font-family="'Liberation Serif', serif" text-rendering="geometricPrecision">6</text>
<text transform="translate(560.68,326.4) scale(0.95,1)" text-anchor="middle" font-size="18.9" font-family="'Liberation Serif', serif" text-rendering="geometricPrecision">8</text>
<text transform="translate(603.40,326.4) scale(0.95,1)" text-anchor="middle" font-size="18.9" font-family="'Liberation Serif', serif" text-rendering="geometricPrecision">10</text>
<text x="497.4" y="345.5" text-anchor="middle" font-size="20.35" font-family="'Liberation Serif', serif" text-rendering="geometricPrecision">Pressure (GPa)</text>
<text transform="translate(333.8,169.8) rotate(-90)" text-anchor="middle" font-size="20.7" font-family="'Liberation Serif', serif" text-rendering="geometricPrecision">Moduli (GPa)</text>
<text x="485.3" y="34.4" font-size="20" font-weight="bold" font-family="'Liberation Serif', serif" text-rendering="geometricPrecision">(b)</text>
<path d="M376.8,28.90H420.8" stroke="#000000" stroke-width="1.5"/>
<rect x="392.60" y="21.90" width="14.00" height="14.00" fill="#000000"/>
<text x="426.5" y="36.20" font-size="20" font-family="'Liberation Serif', serif" text-rendering="geometricPrecision">B</text>
<path d="M376.8,52.80H420.8" stroke="#ff0000" stroke-width="1.5"/>
<circle cx="399.60" cy="52.80" r="8.00" fill="#ff0000"/>
<text x="426.5" y="60.10" font-size="20" font-family="'Liberation Serif', serif" text-rendering="geometricPrecision">G</text>
<path d="M376.8,76.70H420.8" stroke="#00ff00" stroke-width="1.5"/>
<polygon points="399.60,64.92 409.10,82.59 390.10,82.59" fill="#00ff00"/>
<text x="426.5" y="84.00" font-size="20" font-family="'Liberation Serif', serif" text-rendering="geometricPrecision">E</text>
</svg></body></html>
